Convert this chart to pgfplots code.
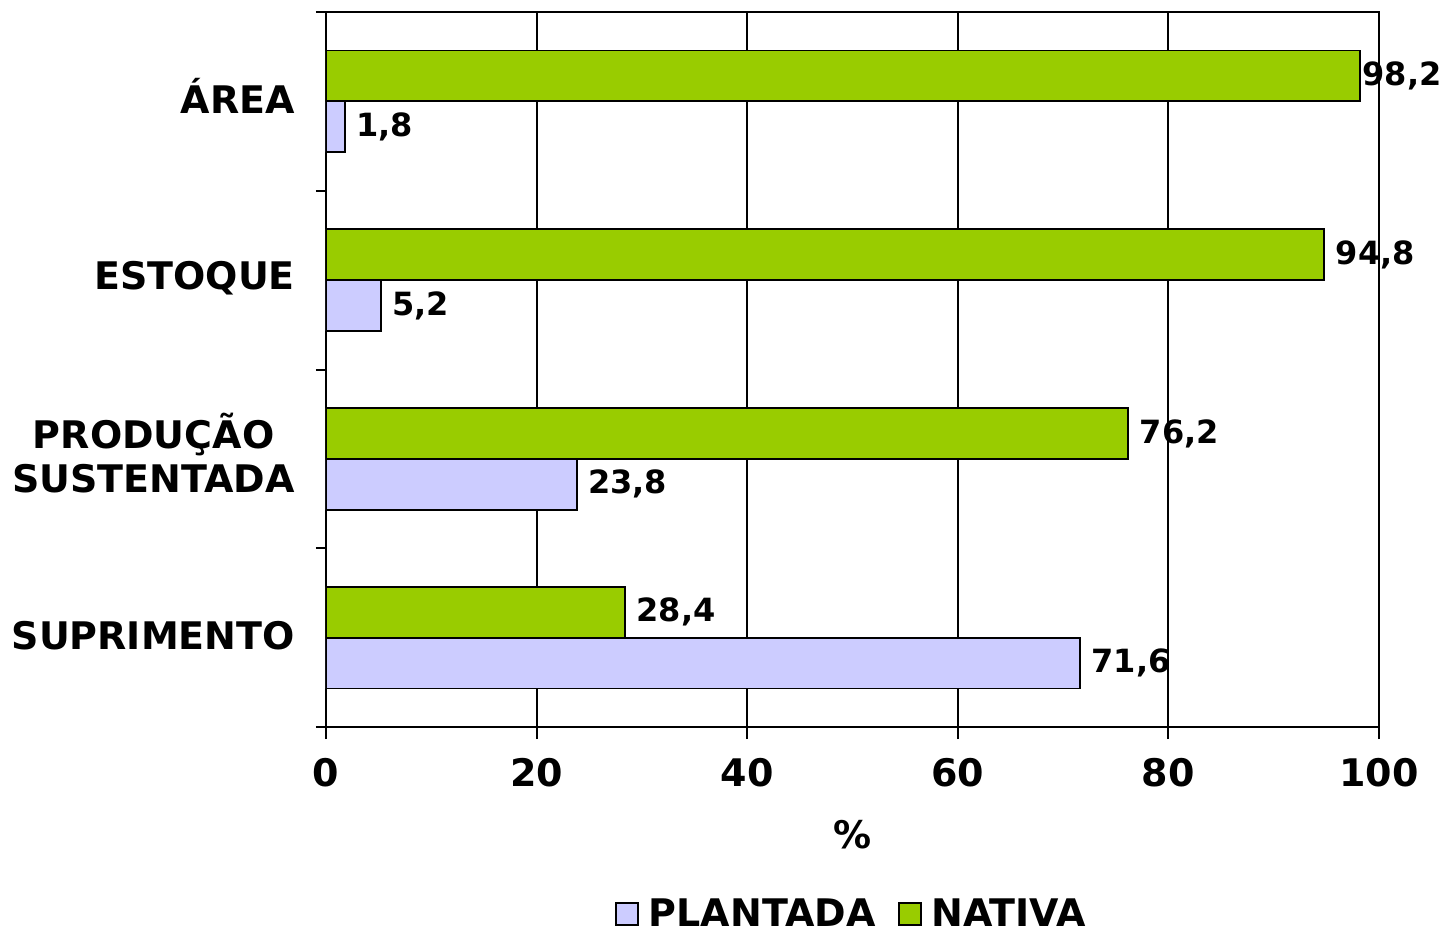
\documentclass[border=0pt]{standalone}
\usepackage{fontspec}
\setmainfont{DejaVu Sans}
\usepackage{pgfplots}
\pgfplotsset{compat=1.18}
\usetikzlibrary{calc}

\definecolor{nativa}{HTML}{99CC00}
\definecolor{plantada}{HTML}{CCCCFF}

\begin{document}
\begin{tikzpicture}
\begin{axis}[
    scale only axis,
    width=526.5pt, height=357.5pt,
    xmin=0, xmax=100,
    ymin=-0.5, ymax=3.5,
    xtick={0,20,40,60,80,100},
    ytick={0,1,2,3},
    yticklabels={SUPRIMENTO, \smash{PRODUÇÃO}\vphantom{P}\\SUSTENTADA, ESTOQUE, \smash{ÁREA}\vphantom{A}},
    minor ytick={-0.5,0.5,1.5,2.5,3.5},
    major y tick style={draw=none},
    minor tick length=5pt,
    major tick length=6pt,
    tick align=outside,
    xtick pos=bottom, ytick pos=left,
    xmajorgrids,
    grid style={black, line width=1pt},
    axis line style={line width=1pt},
    tick style={black, line width=1pt},
    ticklabel style={font=\fontsize{19}{22}\selectfont\bfseries},
    yticklabel style={align=center, xshift=-6pt, yshift=1pt},
    xticklabel style={yshift=-6pt},
    /pgf/number format/assume math mode=true,
    xlabel={\%},
    xlabel style={font=\fontsize{19}{22}\selectfont\bfseries, yshift=-10pt},
    xbar,
    bar width=0.285,
    nodes near coords,
    visualization depends on={\thisrow{dx} \as \dx},
    nodes near coords style={font=\fontsize{16}{18}\selectfont\bfseries, anchor=west, xshift=\dx pt,
        /pgf/number format/.cd, use comma, fixed, fixed zerofill, precision=1, assume math mode=true},
    legend style={at={(0.5,-0.262)}, anchor=center, draw=none, legend columns=2,
        font=\fontsize{19}{22}\selectfont\bfseries,
        /tikz/every odd column/.append style={column sep=3pt},
        /tikz/every even column/.append style={column sep=9pt}},
    legend image code/.code={\draw[#1, draw=black, line width=1pt] (0pt,-5.5pt) rectangle (11pt,5.5pt);},
]
\addplot[fill=plantada, draw=black, line width=0.9pt, bar shift=-0.1425] table {
    x    y  dx
    71.6 0  2
    23.8 1  2
    5.2  2  2
    1.8  3  2
};
\addplot[fill=nativa, draw=black, line width=0.9pt, bar shift=0.1425] table {
    x    y  dx
    28.4 0  2
    76.2 1  2
    94.8 2  2
    98.2 3  -2.5
};
\legend{PLANTADA, NATIVA}
\coordinate (O) at (rel axis cs:0,0);
\end{axis}
\pgfresetboundingbox
\path ($(O)+(-163pt,363.5pt)$) rectangle ($(O)+(557.5pt,-106pt)$);
\end{tikzpicture}
\end{document}
